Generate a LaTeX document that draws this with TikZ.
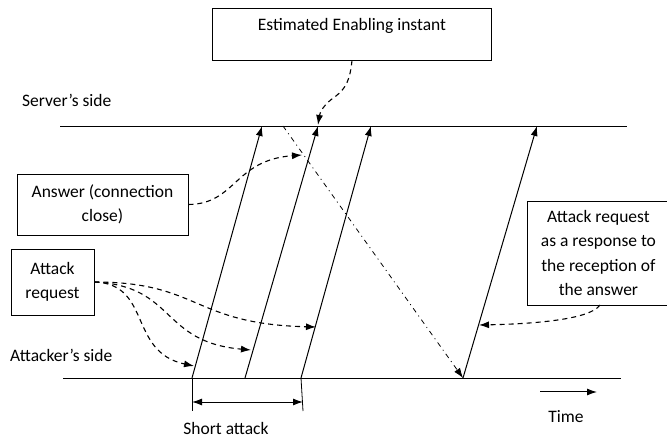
\documentclass[tikz,border=0pt]{standalone}
\usepackage{fontspec}
\setmainfont{Carlito}
\usetikzlibrary{arrows.meta}
\begin{document}
\begin{tikzpicture}[x=1pt,y=-1pt,
  font=\fontsize{17.5}{24.5}\selectfont,
  txt/.style={inner sep=0pt},
  box/.style={draw, line width=0.9pt, align=center, inner sep=0pt},
  tip/.style={-{Latex[length=10pt,width=7pt]}},
  msg/.style={line width=1pt, tip},
  note/.style={line width=1.1pt, dash pattern=on 5pt off 4pt, tip},
  reply/.style={line width=0.8pt, dash pattern=on 5pt off 4pt on 1pt off 4pt, tip},
  timeline/.style={line width=0.8pt}]
\useasboundingbox (0,0) rectangle (667,438);

% time lines
\coordinate (srvL) at (60,126);  \coordinate (srvR) at (627,126);
\coordinate (attL) at (63,378);  \coordinate (attR) at (621,378);
\draw[timeline] (srvL) -- (srvR);
\draw[timeline] (attL) -- (attR);
\node[txt, anchor=west] (srvlbl) at (22,100) {Server’s side};
\node[txt, anchor=west] (attlbl) at (10,355) {Attacker’s side};

% request instants (attacker side) and arrivals (server side)
\coordinate (a1) at (192,378); \coordinate (s1) at (262,126);
\coordinate (a2) at (245,378); \coordinate (s2) at (318,126);
\coordinate (a3) at (301,378); \coordinate (s3) at (371,126);
\coordinate (a4) at (463,378); \coordinate (s4) at (537,126);
\draw[msg] (a1) -- (s1);
\draw[msg] (a2) -- (s2);
\draw[msg] (a3) -- (s3);
\draw[msg] (a4) -- (s4);

% answer of the server
\coordinate (ans0) at (283,126);
\draw[reply] (ans0) -- (a4);

% boxes
\node[box, minimum width=279pt, minimum height=52pt] (est) at (352,34) {};
\node[txt] (estlbl) at (352,26) {Estimated Enabling instant};
\node[box, minimum width=171pt, minimum height=61pt] (answer) at (102.5,204.5)
  {Answer (connection\\close)};
\node[box, minimum width=83pt, minimum height=66pt] (areq) at (52.5,282)
  {Attack\\request};
\node[box, minimum width=142pt, minimum height=104pt, anchor=west] (resp) at (527,253)
  {Attack request\\as a response to\\the reception of\\the answer};

% pointers from the boxes
\coordinate (estT) at (318,125);
\draw[note] (est.south) .. controls (350,80) and (346,88) .. (336,96)
  .. controls (324,104) and (320,112) .. (estT);
\coordinate (ansT) at (302,155);
\draw[note] (answer.east) .. controls (236,204) and (234,160) .. (ansT);
\coordinate (r1) at (194,366);
\coordinate (r2) at (251,350);
\coordinate (r3) at (316,327);
\draw[note] (areq.east) .. controls (152,284) and (128,352) .. (r1);
\draw[note] (areq.east) .. controls (176,286) and (160,342) .. (r2);
\draw[note] (areq.east) .. controls (200,282) and (192,324) .. (r3);
\coordinate (respS) at (600,305);
\coordinate (respT) at (479,325);
\draw[note] (respS) .. controls (590,320) and (530,324) .. (respT);

% duration of the short attack
\coordinate (d1) at (192,411); \coordinate (d2) at (303,411);
\draw[timeline] (a1) -- (d1);
\draw[timeline] (301,378) -- (d2);
\coordinate (b1) at (192,402); \coordinate (b2) at (303,402);
\draw[line width=1pt, {Latex[length=10pt,width=7pt]}-{Latex[length=10pt,width=7pt]}] (b1) -- (b2);
\node[txt, anchor=base] (short) at (226,434) {Short attack};

% time direction
\coordinate (t1) at (540,392); \coordinate (t2) at (597,392);
\draw[line width=1pt, tip] (t1) -- (t2);
\node[txt, anchor=base] (time) at (566,422) {Time};
\end{tikzpicture}
\end{document}
